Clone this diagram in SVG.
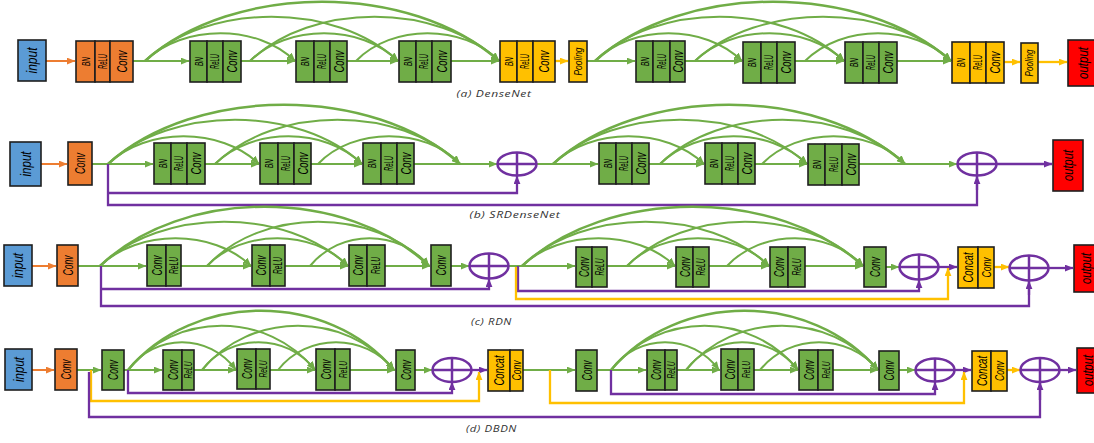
<svg xmlns="http://www.w3.org/2000/svg" width="1094" height="443" viewBox="0 0 1094 443">
<style>
rect{stroke:#1e1e1e;stroke-width:1.6}
.b{fill:#5B9BD5}.o{fill:#ED7D31}.g{fill:#70AD47}.y{fill:#FFC000}.r{fill:#FF0000}
text{font-family:"Liberation Sans",Arial,sans-serif;font-style:italic;fill:#000;text-anchor:middle}
.cap{font-family:"Open Sans","Liberation Sans",sans-serif;font-size:9.5px;fill:#333;letter-spacing:0.5px}
.gl{fill:none;stroke:#70AD47;stroke-width:2;marker-end:url(#ag)}
.pl{fill:none;stroke:#7030A0;stroke-width:2.3;marker-end:url(#ap)}
.pn{fill:none;stroke:#7030A0;stroke-width:2.3}
.yl{fill:none;stroke:#FFC000;stroke-width:2.3;marker-end:url(#ay)}
.ol{fill:none;stroke:#ED7D31;stroke-width:2;marker-end:url(#ao)}
.plus ellipse,.plus line{fill:none;stroke:#7030A0;stroke-width:2.5}
</style>
<defs>
<marker id="ag" viewBox="0 0 10 8" refX="9.5" refY="4" markerWidth="9" markerHeight="7" markerUnits="userSpaceOnUse" orient="auto"><path d="M0,0 L10,4 L0,8 z" fill="#70AD47"/></marker>
<marker id="ap" viewBox="0 0 10 8" refX="9.5" refY="4" markerWidth="9" markerHeight="7" markerUnits="userSpaceOnUse" orient="auto"><path d="M0,0 L10,4 L0,8 z" fill="#7030A0"/></marker>
<marker id="ay" viewBox="0 0 10 8" refX="9.5" refY="4" markerWidth="9" markerHeight="7" markerUnits="userSpaceOnUse" orient="auto"><path d="M0,0 L10,4 L0,8 z" fill="#FFC000"/></marker>
<marker id="ao" viewBox="0 0 10 8" refX="9.5" refY="4" markerWidth="9" markerHeight="7" markerUnits="userSpaceOnUse" orient="auto"><path d="M0,0 L10,4 L0,8 z" fill="#ED7D31"/></marker>
</defs>
<rect x="0" y="0" width="1094" height="443" style="fill:#fff;stroke:none"/>

<g id="connectors">
<!-- row a -->
<path class="ol" d="M46 61 H75"/>
<path class="gl" d="M133 61 H189"/>
<path class="gl" d="M241 61 H295"/>
<path class="gl" d="M347 61 H398"/>
<path class="gl" d="M451 61 H499"/>
<path class="yl" d="M555 61 H568"/>
<path class="gl" d="M587 61 H635"/>
<path class="gl" d="M685 61 H742"/>
<path class="gl" d="M795 61 H844"/>
<path class="gl" d="M897 61 H951"/>
<path class="yl" d="M1004 62 H1020"/>
<path class="yl" d="M1038 62 H1067"/>
<path class="gl" d="M145 61 C183 24 258 24 295 61"/>
<path class="gl" d="M145 61 C208 2 335 2 398 61"/>
<path class="gl" style="stroke-width:2.5" d="M145 61 C234 -18 410 -18 499 61"/>
<path class="gl" d="M250 61 C287 24 361 24 398 61"/>
<path class="gl" d="M250 61 C312 2 437 2 499 61"/>
<path class="gl" d="M356 61 C392 24 463 24 499 61"/>
<path class="gl" d="M595 61 C632 24 705 24 742 61"/>
<path class="gl" d="M595 61 C657 2 782 2 844 61"/>
<path class="gl" style="stroke-width:2.5" d="M595 61 C684 -18 862 -18 951 61"/>
<path class="gl" d="M695 61 C732 24 807 24 844 61"/>
<path class="gl" d="M695 61 C759 2 887 2 951 61"/>
<path class="gl" d="M805 61 C842 24 914 24 951 61"/>
<!-- row b -->
<path class="ol" d="M41 164 H67"/>
<path class="gl" d="M92 164 H153"/>
<path class="gl" d="M205 164 H259"/>
<path class="gl" d="M311 164 H362"/>
<path class="gl" d="M414 164 H497"/>
<path class="gl" d="M537 164 H598"/>
<path class="gl" d="M649 164 H704"/>
<path class="gl" d="M755 164 H807"/>
<path class="gl" d="M859 164 H957"/>
<path class="pl" d="M997 164 H1052"/>
<path class="gl" d="M108 164 C146 127 221 127 259 164"/>
<path class="gl" d="M108 164 C171 105 299 105 362 164"/>
<path class="gl" style="stroke-width:2.5" d="M108 164 C196 85 372 85 460 164"/>
<path class="gl" d="M215 164 C252 127 325 127 362 164"/>
<path class="gl" d="M215 164 C276 105 399 105 460 164"/>
<path class="gl" d="M318 164 C353 127 425 127 460 164"/>
<path class="gl" d="M553 164 C591 127 666 127 704 164"/>
<path class="gl" d="M553 164 C616 105 744 105 807 164"/>
<path class="gl" style="stroke-width:2.5" d="M553 164 C641 85 817 85 905 164"/>
<path class="gl" d="M660 164 C697 127 770 127 807 164"/>
<path class="gl" d="M660 164 C721 105 844 105 905 164"/>
<path class="gl" d="M762 164 C798 127 869 127 905 164"/>
<path class="pn" d="M108 164 V205 H977 V177"/>
<path class="pl" d="M108 193 H517 V176"/>
<path class="pl" d="M977 190 V176"/>
<!-- row c -->
<path class="ol" d="M32 266 H56"/>
<path class="gl" d="M78 266 H146"/>
<path class="gl" d="M181 266 H251"/>
<path class="gl" d="M285 266 H348"/>
<path class="gl" d="M385 266 H430"/>
<path class="gl" d="M451 266 H469"/>
<path class="gl" d="M509 266 H575"/>
<path class="gl" d="M607 266 H675"/>
<path class="gl" d="M709 266 H769"/>
<path class="gl" d="M805 266 H863"/>
<path class="gl" d="M886 267 H899"/>
<path class="pl" d="M939 267 H957"/>
<path class="yl" d="M994 267 H1009"/>
<path class="pl" d="M1049 268 H1073"/>
<path class="gl" d="M100 266 C138 229 213 229 251 266"/>
<path class="gl" d="M100 266 C162 207 286 207 348 266"/>
<path class="gl" style="stroke-width:2.5" d="M100 266 C182 187 347 187 429 266"/>
<path class="gl" d="M207 266 C242 229 313 229 348 266"/>
<path class="gl" d="M207 266 C262 207 374 207 429 266"/>
<path class="gl" d="M310 266 C340 229 399 229 429 266"/>
<path class="gl" d="M522 266 C560 229 637 229 675 266"/>
<path class="gl" d="M522 266 C584 207 707 207 769 266"/>
<path class="gl" style="stroke-width:2.5" d="M522 266 C607 187 778 187 863 266"/>
<path class="gl" d="M627 266 C662 229 734 229 769 266"/>
<path class="gl" d="M627 266 C686 207 804 207 863 266"/>
<path class="gl" d="M727 266 C761 229 829 229 863 266"/>
<path class="pn" d="M101 266 V306 H1029 V281"/>
<path class="pl" d="M1029 295 V281"/>
<path class="pl" d="M101 289 H489 V279"/>
<path class="pl" d="M518 266 V291 H919 V280"/>
<path class="yl" d="M516 267 V299 H948 V268"/>
<!-- row d -->
<path class="ol" d="M32 370 H54"/>
<path class="gl" d="M77 370 H101"/>
<path class="gl" d="M124 370 H162"/>
<path class="gl" d="M194 370 H236"/>
<path class="gl" d="M270 370 H315"/>
<path class="gl" d="M350 370 H395"/>
<path class="gl" d="M415 370 H432"/>
<path class="pl" d="M472 370 H487"/>
<path class="gl" d="M523 370 H575"/>
<path class="gl" d="M597 370 H646"/>
<path class="gl" d="M677 370 H720"/>
<path class="gl" d="M754 370 H798"/>
<path class="gl" d="M833 370 H878"/>
<path class="gl" d="M899 370 H915"/>
<path class="pl" d="M955 370 H971"/>
<path class="yl" d="M1007 370 H1020"/>
<path class="pl" d="M1060 370 H1076"/>
<path class="gl" d="M128 370 C155 333 209 333 236 370"/>
<path class="gl" d="M128 370 C175 311 268 311 315 370"/>
<path class="gl" style="stroke-width:2.5" d="M128 370 C194 291 328 291 394 370"/>
<path class="gl" d="M202 370 C230 333 287 333 315 370"/>
<path class="gl" d="M202 370 C250 311 346 311 394 370"/>
<path class="gl" d="M278 370 C307 333 365 333 394 370"/>
<path class="gl" d="M611 370 C638 333 692 333 719 370"/>
<path class="gl" d="M611 370 C658 311 751 311 798 370"/>
<path class="gl" style="stroke-width:2.5" d="M611 370 C678 291 811 291 878 370"/>
<path class="gl" d="M686 370 C714 333 770 333 798 370"/>
<path class="gl" d="M686 370 C734 311 830 311 878 370"/>
<path class="gl" d="M760 370 C790 333 848 333 878 370"/>
<path class="yl" d="M91 370 V401 H479 V372"/>
<path class="pn" d="M89 372 V417 H1040 V382"/>
<path class="pl" d="M1040 400 V382"/>
<path class="pl" d="M128 370 V393 H452 V382"/>
<path class="yl" d="M550 370 V403 H964 V372"/>
<path class="pl" d="M611 370 V394 H935 V382"/>
</g>

<!-- row a nodes -->
<g id="a-input"><rect class="b" x="18" y="40" width="28" height="41"/><text transform="translate(32,60.5) rotate(-90)" dy="5" font-size="14" textLength="26" lengthAdjust="spacingAndGlyphs">input</text></g>
<g id="a-block0"><rect class="o" x="76" y="41" width="19" height="41"/><rect class="o" x="95" y="41" width="15" height="41"/><rect class="o" x="110" y="41" width="23" height="41"/>
<text transform="translate(85.5,61.5) rotate(-90)" dy="4" font-size="11" textLength="9" lengthAdjust="spacingAndGlyphs">BN</text><text transform="translate(102.5,61.5) rotate(-90)" dy="4.2" font-size="12" textLength="15" lengthAdjust="spacingAndGlyphs">ReLU</text><text transform="translate(121.5,61.5) rotate(-90)" dy="5" font-size="14" textLength="22" lengthAdjust="spacingAndGlyphs">Conv</text></g>
<g id="a-g1"><rect class="g" x="190" y="41" width="17" height="41"/><rect class="g" x="207" y="41" width="16" height="41"/><rect class="g" x="223" y="41" width="18" height="41"/>
<text transform="translate(198.5,61.5) rotate(-90)" dy="4" font-size="11" textLength="9" lengthAdjust="spacingAndGlyphs">BN</text><text transform="translate(215,61.5) rotate(-90)" dy="4.2" font-size="12" textLength="15" lengthAdjust="spacingAndGlyphs">ReLU</text><text transform="translate(232,61.5) rotate(-90)" dy="5" font-size="14" textLength="22" lengthAdjust="spacingAndGlyphs">Conv</text></g>
<g id="a-g2"><rect class="g" x="296" y="41" width="18" height="41"/><rect class="g" x="314" y="41" width="16" height="41"/><rect class="g" x="330" y="41" width="17" height="41"/>
<text transform="translate(305,61.5) rotate(-90)" dy="4" font-size="11" textLength="9" lengthAdjust="spacingAndGlyphs">BN</text><text transform="translate(322,61.5) rotate(-90)" dy="4.2" font-size="12" textLength="15" lengthAdjust="spacingAndGlyphs">ReLU</text><text transform="translate(338.5,61.5) rotate(-90)" dy="5" font-size="14" textLength="22" lengthAdjust="spacingAndGlyphs">Conv</text></g>
<g id="a-g3"><rect class="g" x="399" y="41" width="17" height="41"/><rect class="g" x="416" y="41" width="16" height="41"/><rect class="g" x="432" y="41" width="19" height="41"/>
<text transform="translate(407.5,61.5) rotate(-90)" dy="4" font-size="11" textLength="9" lengthAdjust="spacingAndGlyphs">BN</text><text transform="translate(424,61.5) rotate(-90)" dy="4.2" font-size="12" textLength="15" lengthAdjust="spacingAndGlyphs">ReLU</text><text transform="translate(441.5,61.5) rotate(-90)" dy="5" font-size="14" textLength="22" lengthAdjust="spacingAndGlyphs">Conv</text></g>
<g id="a-y1"><rect class="y" x="500" y="41" width="17" height="41"/><rect class="y" x="517" y="41" width="16" height="41"/><rect class="y" x="533" y="41" width="22" height="41"/>
<text transform="translate(508.5,61.5) rotate(-90)" dy="4" font-size="11" textLength="9" lengthAdjust="spacingAndGlyphs">BN</text><text transform="translate(525,61.5) rotate(-90)" dy="4.2" font-size="12" textLength="15" lengthAdjust="spacingAndGlyphs">ReLU</text><text transform="translate(544,61.5) rotate(-90)" dy="5" font-size="14" textLength="22" lengthAdjust="spacingAndGlyphs">Conv</text></g>
<g id="a-pool1"><rect class="y" x="569" y="41" width="18" height="41"/><text transform="translate(578,61.5) rotate(-90)" dy="3.8" font-size="10.5" textLength="28" lengthAdjust="spacingAndGlyphs">Pooling</text></g>
<g id="a-g4"><rect class="g" x="636" y="41" width="17" height="41"/><rect class="g" x="653" y="41" width="17" height="41"/><rect class="g" x="670" y="41" width="15" height="41"/>
<text transform="translate(644.5,61.5) rotate(-90)" dy="4" font-size="11" textLength="9" lengthAdjust="spacingAndGlyphs">BN</text><text transform="translate(661.5,61.5) rotate(-90)" dy="4.2" font-size="12" textLength="15" lengthAdjust="spacingAndGlyphs">ReLU</text><text transform="translate(677.5,61.5) rotate(-90)" dy="5" font-size="14" textLength="22" lengthAdjust="spacingAndGlyphs">Conv</text></g>
<g id="a-g5"><rect class="g" x="743" y="42" width="18" height="41"/><rect class="g" x="761" y="42" width="16" height="41"/><rect class="g" x="777" y="42" width="18" height="41"/>
<text transform="translate(752,62.5) rotate(-90)" dy="4" font-size="11" textLength="9" lengthAdjust="spacingAndGlyphs">BN</text><text transform="translate(769,62.5) rotate(-90)" dy="4.2" font-size="12" textLength="15" lengthAdjust="spacingAndGlyphs">ReLU</text><text transform="translate(786,62.5) rotate(-90)" dy="5" font-size="14" textLength="22" lengthAdjust="spacingAndGlyphs">Conv</text></g>
<g id="a-g6"><rect class="g" x="845" y="42" width="18" height="41"/><rect class="g" x="863" y="42" width="16" height="41"/><rect class="g" x="879" y="42" width="18" height="41"/>
<text transform="translate(854,62.5) rotate(-90)" dy="4" font-size="11" textLength="9" lengthAdjust="spacingAndGlyphs">BN</text><text transform="translate(871,62.5) rotate(-90)" dy="4.2" font-size="12" textLength="15" lengthAdjust="spacingAndGlyphs">ReLU</text><text transform="translate(888,62.5) rotate(-90)" dy="5" font-size="14" textLength="22" lengthAdjust="spacingAndGlyphs">Conv</text></g>
<g id="a-y2"><rect class="y" x="952" y="42" width="18" height="41"/><rect class="y" x="970" y="42" width="16" height="41"/><rect class="y" x="986" y="42" width="18" height="41"/>
<text transform="translate(961,62.5) rotate(-90)" dy="4" font-size="11" textLength="9" lengthAdjust="spacingAndGlyphs">BN</text><text transform="translate(978,62.5) rotate(-90)" dy="4.2" font-size="12" textLength="15" lengthAdjust="spacingAndGlyphs">ReLU</text><text transform="translate(995,62.5) rotate(-90)" dy="5" font-size="14" textLength="22" lengthAdjust="spacingAndGlyphs">Conv</text></g>
<g id="a-pool2"><rect class="y" x="1021" y="43" width="17" height="40"/><text transform="translate(1029.5,63) rotate(-90)" dy="3.8" font-size="10.5" textLength="27" lengthAdjust="spacingAndGlyphs">Pooling</text></g>
<g id="a-output"><rect class="r" x="1068" y="40" width="34" height="46"/><text transform="translate(1083,63) rotate(-90)" dy="5" font-size="14" textLength="32" lengthAdjust="spacingAndGlyphs">output</text></g>
<text class="cap" x="494" y="96.5" textLength="75" lengthAdjust="spacingAndGlyphs">(a) DenseNet</text>

<!-- row b nodes -->
<g id="b-input"><rect class="b" x="10" y="142" width="31" height="44"/><text transform="translate(25.5,164) rotate(-90)" dy="5" font-size="14" textLength="25" lengthAdjust="spacingAndGlyphs">input</text></g>
<g id="b-conv0"><rect class="o" x="68" y="142" width="24" height="43"/><text transform="translate(80,163.5) rotate(-90)" dy="5" font-size="14" textLength="21" lengthAdjust="spacingAndGlyphs">Conv</text></g>
<g id="b-g1"><rect class="g" x="154" y="143" width="17" height="41"/><rect class="g" x="171" y="143" width="16" height="41"/><rect class="g" x="187" y="143" width="18" height="41"/>
<text transform="translate(162.5,163.5) rotate(-90)" dy="4" font-size="11" textLength="9" lengthAdjust="spacingAndGlyphs">BN</text><text transform="translate(179,163.5) rotate(-90)" dy="4.2" font-size="12" textLength="15" lengthAdjust="spacingAndGlyphs">ReLU</text><text transform="translate(196,163.5) rotate(-90)" dy="5" font-size="14" textLength="22" lengthAdjust="spacingAndGlyphs">Conv</text></g>
<g id="b-g2"><rect class="g" x="260" y="143" width="18" height="41"/><rect class="g" x="278" y="143" width="16" height="41"/><rect class="g" x="294" y="143" width="17" height="41"/>
<text transform="translate(269,163.5) rotate(-90)" dy="4" font-size="11" textLength="9" lengthAdjust="spacingAndGlyphs">BN</text><text transform="translate(286,163.5) rotate(-90)" dy="4.2" font-size="12" textLength="15" lengthAdjust="spacingAndGlyphs">ReLU</text><text transform="translate(302.5,163.5) rotate(-90)" dy="5" font-size="14" textLength="22" lengthAdjust="spacingAndGlyphs">Conv</text></g>
<g id="b-g3"><rect class="g" x="363" y="143" width="18" height="41"/><rect class="g" x="381" y="143" width="16" height="41"/><rect class="g" x="397" y="143" width="17" height="41"/>
<text transform="translate(372,163.5) rotate(-90)" dy="4" font-size="11" textLength="9" lengthAdjust="spacingAndGlyphs">BN</text><text transform="translate(389,163.5) rotate(-90)" dy="4.2" font-size="12" textLength="15" lengthAdjust="spacingAndGlyphs">ReLU</text><text transform="translate(405.5,163.5) rotate(-90)" dy="5" font-size="14" textLength="22" lengthAdjust="spacingAndGlyphs">Conv</text></g>
<g id="b-plus1" class="plus"><ellipse cx="517" cy="164" rx="19.5" ry="11.5"/><line x1="497.5" y1="164" x2="536.5" y2="164"/><line x1="517" y1="152.5" x2="517" y2="175.5"/></g>
<g id="b-g4"><rect class="g" x="599" y="143" width="17" height="41"/><rect class="g" x="616" y="143" width="16" height="41"/><rect class="g" x="632" y="143" width="17" height="41"/>
<text transform="translate(607.5,163.5) rotate(-90)" dy="4" font-size="11" textLength="9" lengthAdjust="spacingAndGlyphs">BN</text><text transform="translate(624,163.5) rotate(-90)" dy="4.2" font-size="12" textLength="15" lengthAdjust="spacingAndGlyphs">ReLU</text><text transform="translate(640.5,163.5) rotate(-90)" dy="5" font-size="14" textLength="22" lengthAdjust="spacingAndGlyphs">Conv</text></g>
<g id="b-g5"><rect class="g" x="705" y="143" width="17" height="41"/><rect class="g" x="722" y="143" width="16" height="41"/><rect class="g" x="738" y="143" width="17" height="41"/>
<text transform="translate(713.5,163.5) rotate(-90)" dy="4" font-size="11" textLength="9" lengthAdjust="spacingAndGlyphs">BN</text><text transform="translate(730,163.5) rotate(-90)" dy="4.2" font-size="12" textLength="15" lengthAdjust="spacingAndGlyphs">ReLU</text><text transform="translate(746.5,163.5) rotate(-90)" dy="5" font-size="14" textLength="22" lengthAdjust="spacingAndGlyphs">Conv</text></g>
<g id="b-g6"><rect class="g" x="808" y="144" width="17" height="41"/><rect class="g" x="825" y="144" width="17" height="41"/><rect class="g" x="842" y="144" width="17" height="41"/>
<text transform="translate(816.5,164.5) rotate(-90)" dy="4" font-size="11" textLength="9" lengthAdjust="spacingAndGlyphs">BN</text><text transform="translate(833.5,164.5) rotate(-90)" dy="4.2" font-size="12" textLength="15" lengthAdjust="spacingAndGlyphs">ReLU</text><text transform="translate(850.5,164.5) rotate(-90)" dy="5" font-size="14" textLength="22" lengthAdjust="spacingAndGlyphs">Conv</text></g>
<g id="b-plus2" class="plus"><ellipse cx="977" cy="164" rx="19.5" ry="11.5"/><line x1="957.5" y1="164" x2="996.5" y2="164"/><line x1="977" y1="152.5" x2="977" y2="175.5"/></g>
<g id="b-output"><rect class="r" x="1053" y="140" width="30" height="51"/><text transform="translate(1068,165.5) rotate(-90)" dy="5" font-size="14" textLength="31" lengthAdjust="spacingAndGlyphs">output</text></g>
<text class="cap" x="515" y="217.5" textLength="91" lengthAdjust="spacingAndGlyphs">(b) SRDenseNet</text>

<!-- row c nodes -->
<g id="c-input"><rect class="b" x="4" y="245" width="28" height="41"/><text transform="translate(18,265.5) rotate(-90)" dy="5" font-size="14" textLength="25" lengthAdjust="spacingAndGlyphs">input</text></g>
<g id="c-conv0"><rect class="o" x="57" y="245" width="21" height="41"/><text transform="translate(67.5,265.5) rotate(-90)" dy="5" font-size="14" textLength="20" lengthAdjust="spacingAndGlyphs">Conv</text></g>
<g id="c-g1"><rect class="g" x="147" y="245" width="19" height="41"/><rect class="g" x="166" y="245" width="15" height="41"/>
<text transform="translate(156.5,265.5) rotate(-90)" dy="5" font-size="14" textLength="20" lengthAdjust="spacingAndGlyphs">Conv</text><text transform="translate(173.5,265.5) rotate(-90)" dy="4.2" font-size="12" textLength="17" lengthAdjust="spacingAndGlyphs">ReLU</text></g>
<g id="c-g2"><rect class="g" x="252" y="245" width="18" height="41"/><rect class="g" x="270" y="245" width="15" height="41"/>
<text transform="translate(261,265.5) rotate(-90)" dy="5" font-size="14" textLength="20" lengthAdjust="spacingAndGlyphs">Conv</text><text transform="translate(277.5,265.5) rotate(-90)" dy="4.2" font-size="12" textLength="17" lengthAdjust="spacingAndGlyphs">ReLU</text></g>
<g id="c-g3"><rect class="g" x="349" y="245" width="18" height="41"/><rect class="g" x="367" y="245" width="18" height="41"/>
<text transform="translate(358,265.5) rotate(-90)" dy="5" font-size="14" textLength="20" lengthAdjust="spacingAndGlyphs">Conv</text><text transform="translate(376,265.5) rotate(-90)" dy="4.2" font-size="12" textLength="17" lengthAdjust="spacingAndGlyphs">ReLU</text></g>
<g id="c-conv4"><rect class="g" x="431" y="245" width="20" height="41"/><text transform="translate(441,265.5) rotate(-90)" dy="5" font-size="14" textLength="20" lengthAdjust="spacingAndGlyphs">Conv</text></g>
<g id="c-plus1" class="plus"><ellipse cx="489" cy="266" rx="19.5" ry="12.5"/><line x1="469.5" y1="266" x2="508.5" y2="266"/><line x1="489" y1="253.5" x2="489" y2="278.5"/></g>
<g id="c-g5"><rect class="g" x="576" y="247" width="16" height="40"/><rect class="g" x="592" y="247" width="15" height="40"/>
<text transform="translate(584,267) rotate(-90)" dy="5" font-size="14" textLength="20" lengthAdjust="spacingAndGlyphs">Conv</text><text transform="translate(599.5,267) rotate(-90)" dy="4.2" font-size="12" textLength="17" lengthAdjust="spacingAndGlyphs">ReLU</text></g>
<g id="c-g6"><rect class="g" x="676" y="247" width="17" height="40"/><rect class="g" x="693" y="247" width="16" height="40"/>
<text transform="translate(684.5,267) rotate(-90)" dy="5" font-size="14" textLength="20" lengthAdjust="spacingAndGlyphs">Conv</text><text transform="translate(701,267) rotate(-90)" dy="4.2" font-size="12" textLength="17" lengthAdjust="spacingAndGlyphs">ReLU</text></g>
<g id="c-g7"><rect class="g" x="770" y="247" width="18" height="40"/><rect class="g" x="788" y="247" width="17" height="40"/>
<text transform="translate(779,267) rotate(-90)" dy="5" font-size="14" textLength="20" lengthAdjust="spacingAndGlyphs">Conv</text><text transform="translate(796.5,267) rotate(-90)" dy="4.2" font-size="12" textLength="17" lengthAdjust="spacingAndGlyphs">ReLU</text></g>
<g id="c-conv8"><rect class="g" x="864" y="247" width="22" height="40"/><text transform="translate(875,267) rotate(-90)" dy="5" font-size="14" textLength="20" lengthAdjust="spacingAndGlyphs">Conv</text></g>
<g id="c-plus2" class="plus"><ellipse cx="919" cy="267" rx="19.5" ry="12.5"/><line x1="899.5" y1="267" x2="938.5" y2="267"/><line x1="919" y1="254.5" x2="919" y2="279.5"/></g>
<g id="c-concat"><rect class="y" x="958" y="247" width="20" height="41"/><rect class="y" x="978" y="247" width="16" height="41"/>
<text transform="translate(968,267.5) rotate(-90)" dy="5" font-size="14" textLength="30" lengthAdjust="spacingAndGlyphs">Concat</text><text transform="translate(986,267.5) rotate(-90)" dy="4.5" font-size="13" textLength="20" lengthAdjust="spacingAndGlyphs">Conv</text></g>
<g id="c-plus3" class="plus"><ellipse cx="1029" cy="268" rx="19.5" ry="12.5"/><line x1="1009.5" y1="268" x2="1048.5" y2="268"/><line x1="1029" y1="255.5" x2="1029" y2="280.5"/></g>
<g id="c-output"><rect class="r" x="1074" y="245" width="28" height="47"/><text transform="translate(1086,268.5) rotate(-90)" dy="5" font-size="14" textLength="31" lengthAdjust="spacingAndGlyphs">output</text></g>
<text class="cap" x="491.5" y="324.5" textLength="41" lengthAdjust="spacingAndGlyphs">(c) RDN</text>

<!-- row d nodes -->
<g id="d-input"><rect class="b" x="5" y="349" width="27" height="41"/><text transform="translate(18.5,369.5) rotate(-90)" dy="5" font-size="14" textLength="25" lengthAdjust="spacingAndGlyphs">input</text></g>
<g id="d-conv0"><rect class="o" x="55" y="349" width="22" height="41"/><text transform="translate(66,369.5) rotate(-90)" dy="5" font-size="14" textLength="20" lengthAdjust="spacingAndGlyphs">Conv</text></g>
<g id="d-conv1"><rect class="g" x="102" y="350" width="22" height="40"/><text transform="translate(113,370) rotate(-90)" dy="5" font-size="14" textLength="20" lengthAdjust="spacingAndGlyphs">Conv</text></g>
<g id="d-g2"><rect class="g" x="163" y="350" width="19" height="40"/><rect class="g" x="182" y="350" width="12" height="40"/>
<text transform="translate(172.5,370) rotate(-90)" dy="5" font-size="14" textLength="20" lengthAdjust="spacingAndGlyphs">Conv</text><text transform="translate(188,370) rotate(-90)" dy="4" font-size="11" textLength="17" lengthAdjust="spacingAndGlyphs">ReLU</text></g>
<g id="d-g3"><rect class="g" x="237" y="349" width="19" height="40"/><rect class="g" x="256" y="349" width="14" height="40"/>
<text transform="translate(246.5,369) rotate(-90)" dy="5" font-size="14" textLength="20" lengthAdjust="spacingAndGlyphs">Conv</text><text transform="translate(263,369) rotate(-90)" dy="4" font-size="11" textLength="17" lengthAdjust="spacingAndGlyphs">ReLU</text></g>
<g id="d-g4"><rect class="g" x="316" y="349" width="19" height="41"/><rect class="g" x="335" y="349" width="15" height="41"/>
<text transform="translate(325.5,369.5) rotate(-90)" dy="5" font-size="14" textLength="20" lengthAdjust="spacingAndGlyphs">Conv</text><text transform="translate(342.5,369.5) rotate(-90)" dy="4" font-size="11" textLength="17" lengthAdjust="spacingAndGlyphs">ReLU</text></g>
<g id="d-conv5"><rect class="g" x="396" y="350" width="19" height="40"/><text transform="translate(405.5,370) rotate(-90)" dy="5" font-size="14" textLength="20" lengthAdjust="spacingAndGlyphs">Conv</text></g>
<g id="d-plus1" class="plus"><ellipse cx="452" cy="370" rx="19.5" ry="12"/><line x1="432.5" y1="370" x2="471.5" y2="370"/><line x1="452" y1="358" x2="452" y2="382"/></g>
<g id="d-concat1"><rect class="y" x="488" y="350" width="22" height="41"/><rect class="y" x="510" y="350" width="13" height="41"/>
<text transform="translate(499,370.5) rotate(-90)" dy="5" font-size="14" textLength="30" lengthAdjust="spacingAndGlyphs">Concat</text><text transform="translate(516.5,370.5) rotate(-90)" dy="4.5" font-size="12.5" textLength="20" lengthAdjust="spacingAndGlyphs">Conv</text></g>
<g id="d-conv6"><rect class="g" x="576" y="350" width="21" height="41"/><text transform="translate(586.5,370.5) rotate(-90)" dy="5" font-size="14" textLength="20" lengthAdjust="spacingAndGlyphs">Conv</text></g>
<g id="d-g7"><rect class="g" x="647" y="350" width="18" height="40"/><rect class="g" x="665" y="350" width="12" height="40"/>
<text transform="translate(656,370) rotate(-90)" dy="5" font-size="14" textLength="20" lengthAdjust="spacingAndGlyphs">Conv</text><text transform="translate(671,370) rotate(-90)" dy="4" font-size="11" textLength="17" lengthAdjust="spacingAndGlyphs">ReLU</text></g>
<g id="d-g8"><rect class="g" x="721" y="349" width="17" height="41"/><rect class="g" x="738" y="349" width="16" height="41"/>
<text transform="translate(729.5,369.5) rotate(-90)" dy="5" font-size="14" textLength="20" lengthAdjust="spacingAndGlyphs">Conv</text><text transform="translate(746,369.5) rotate(-90)" dy="4" font-size="11" textLength="17" lengthAdjust="spacingAndGlyphs">ReLU</text></g>
<g id="d-g9"><rect class="g" x="799" y="350" width="19" height="40"/><rect class="g" x="818" y="350" width="15" height="40"/>
<text transform="translate(808.5,370) rotate(-90)" dy="5" font-size="14" textLength="20" lengthAdjust="spacingAndGlyphs">Conv</text><text transform="translate(825.5,370) rotate(-90)" dy="4" font-size="11" textLength="17" lengthAdjust="spacingAndGlyphs">ReLU</text></g>
<g id="d-conv10"><rect class="g" x="879" y="351" width="20" height="39"/><text transform="translate(889,370.5) rotate(-90)" dy="5" font-size="14" textLength="20" lengthAdjust="spacingAndGlyphs">Conv</text></g>
<g id="d-plus2" class="plus"><ellipse cx="935" cy="370" rx="19.5" ry="11.5"/><line x1="915.5" y1="370" x2="954.5" y2="370"/><line x1="935" y1="358.5" x2="935" y2="381.5"/></g>
<g id="d-concat2"><rect class="y" x="972" y="351" width="19" height="40"/><rect class="y" x="991" y="351" width="16" height="40"/>
<text transform="translate(981.5,371) rotate(-90)" dy="5" font-size="14" textLength="30" lengthAdjust="spacingAndGlyphs">Concat</text><text transform="translate(999,371) rotate(-90)" dy="4.5" font-size="13" textLength="20" lengthAdjust="spacingAndGlyphs">Conv</text></g>
<g id="d-plus3" class="plus"><ellipse cx="1040" cy="370" rx="19.5" ry="12"/><line x1="1020.5" y1="370" x2="1059.5" y2="370"/><line x1="1040" y1="358" x2="1040" y2="382"/></g>
<g id="d-output"><rect class="r" x="1077" y="348" width="25" height="45"/><text transform="translate(1088,370.5) rotate(-90)" dy="5" font-size="14" textLength="31" lengthAdjust="spacingAndGlyphs">output</text></g>
<text class="cap" x="491.5" y="432" textLength="51" lengthAdjust="spacingAndGlyphs">(d) DBDN</text>
</svg>
